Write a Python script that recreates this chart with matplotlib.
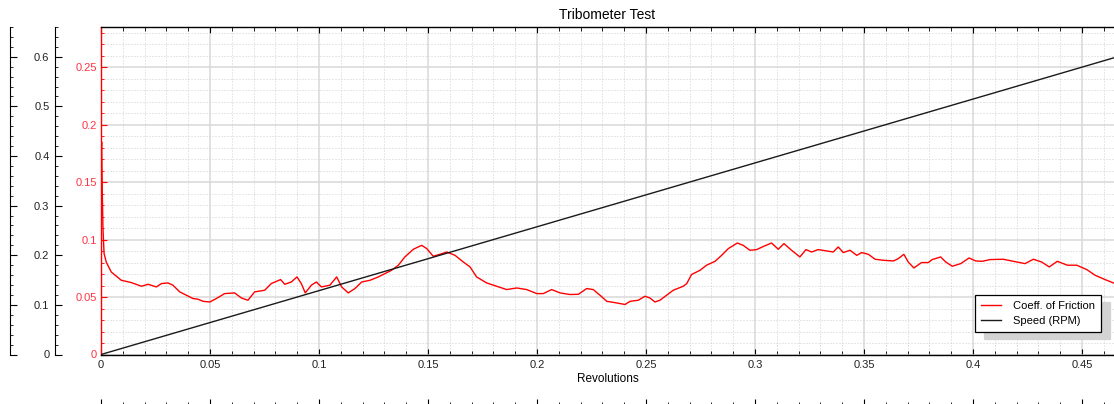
import matplotlib
matplotlib.use("Agg")
import matplotlib.pyplot as plt
from matplotlib.ticker import MultipleLocator, FuncFormatter

plt.rcParams['font.family'] = ['Liberation Sans', 'DejaVu Sans']

# friction coefficient vs revolutions
rev_cof = [0.0, 0.0003, 0.0006, 0.0009, 0.0014, 0.0024, 0.0047, 0.0093, 0.0139, 0.0185,
           0.0216, 0.0254, 0.0277, 0.0307, 0.033, 0.0361, 0.0391, 0.0422, 0.0445, 0.0468,
           0.0499, 0.0529, 0.0567, 0.0613, 0.0644, 0.0674, 0.0705, 0.0751, 0.0781, 0.0824,
           0.0843, 0.0873, 0.0899, 0.0919, 0.0937, 0.0965, 0.0988, 0.1011, 0.105, 0.1081,
           0.1104, 0.1134, 0.1165, 0.1196, 0.1234, 0.1272, 0.1303, 0.1333, 0.1364, 0.1394,
           0.1433, 0.1471, 0.1494, 0.1524, 0.1555, 0.1586, 0.1624, 0.1662, 0.1693, 0.1723,
           0.1769, 0.1815, 0.1861, 0.1907, 0.1953, 0.1999, 0.2029, 0.2067, 0.2106, 0.2151,
           0.219, 0.2228, 0.2258, 0.2289, 0.232, 0.2365, 0.2404, 0.2427, 0.2465, 0.2495,
           0.2518, 0.2541, 0.2564, 0.2595, 0.2625, 0.2671, 0.2687, 0.2709, 0.2748, 0.2778,
           0.2817, 0.2847, 0.2878, 0.2919, 0.2946, 0.2977, 0.3008, 0.3038, 0.3076, 0.3107,
           0.3133, 0.3168, 0.3206, 0.3234, 0.326, 0.329, 0.3329, 0.3359, 0.3382, 0.3405,
           0.3436, 0.3467, 0.349, 0.352, 0.3551, 0.3589, 0.3635, 0.3658, 0.3683, 0.3703,
           0.3729, 0.3764, 0.3795, 0.3813, 0.3852, 0.3875, 0.3905, 0.3944, 0.3982, 0.4013,
           0.4043, 0.4078, 0.4139, 0.4185, 0.4239, 0.4277, 0.4315, 0.435, 0.4387, 0.4433,
           0.4476, 0.4522, 0.456, 0.4606, 0.4644]
cof = [0.17, 0.185, 0.14, 0.11, 0.088, 0.0805, 0.0718, 0.0646, 0.0626, 0.0594,
       0.0611, 0.0588, 0.0617, 0.0623, 0.0603, 0.0545, 0.0516, 0.0487, 0.0481, 0.0463,
       0.0457, 0.0487, 0.053, 0.0536, 0.0492, 0.0472, 0.0545, 0.0559, 0.0617, 0.0652,
       0.0611, 0.0631, 0.0675, 0.0617, 0.0536, 0.0603, 0.0631, 0.0588, 0.0603, 0.0675,
       0.0588, 0.0536, 0.0574, 0.0631, 0.0646, 0.0675, 0.0704, 0.0733, 0.0777, 0.0849,
       0.0916, 0.095, 0.0922, 0.0855, 0.0872, 0.0892, 0.0863, 0.0805, 0.0762, 0.0675,
       0.0623, 0.0594, 0.0565, 0.0579, 0.0565, 0.053, 0.053, 0.0565, 0.0536, 0.0522,
       0.0524, 0.0574, 0.0565, 0.0516, 0.0463, 0.0449, 0.0435, 0.0463, 0.0472, 0.0507,
       0.0492, 0.0457, 0.0472, 0.0516, 0.0559, 0.0594, 0.0617, 0.0696, 0.0733, 0.0777,
       0.0811, 0.0863, 0.0922, 0.097, 0.095, 0.0907, 0.0913, 0.094, 0.097, 0.0916,
       0.0965, 0.0907, 0.0849, 0.0913, 0.0892, 0.0913, 0.0901, 0.0892, 0.0936, 0.0887,
       0.0907, 0.0863, 0.0887, 0.0872, 0.0829, 0.082, 0.0814, 0.0835, 0.0872, 0.0805,
       0.0753, 0.08, 0.08, 0.0826, 0.0849, 0.0805, 0.0768, 0.0791, 0.084, 0.0814,
       0.0811, 0.0826, 0.0829, 0.0811, 0.0791, 0.0829, 0.0805, 0.0762, 0.0811, 0.0777,
       0.0777, 0.0739, 0.069, 0.0652, 0.0623]

# speed ramp
rev_speed = [0.0, 0.4647]
speed = [0.0, 0.598]

RED = '#ff0000'
RED_TXT = '#ff3344'
DARK = '#222222'
fmt = FuncFormatter(lambda v, _: f'{v:g}')

fig = plt.figure(figsize=(11.14, 4.04), dpi=100)
rect = [101 / 1114, (404 - 354.5) / 404, (1114 - 101) / 1114, (354.5 - 27) / 404]

ax = fig.add_axes(rect)
ax.plot(rev_cof, cof, color=RED, lw=1.0, label='Coeff. of Friction')
ax.set_xlim(0, 0.4647)
ax.set_ylim(0, 0.285)
ax.xaxis.set_major_locator(MultipleLocator(0.05))
ax.xaxis.set_minor_locator(MultipleLocator(0.01))
ax.yaxis.set_major_locator(MultipleLocator(0.05))
ax.yaxis.set_minor_locator(MultipleLocator(0.01))
ax.xaxis.set_major_formatter(fmt)
ax.yaxis.set_major_formatter(fmt)
ax.set_axisbelow(True)
ax.grid(which='major', color='#d8d8d8', lw=1.1, ls='-')
ax.grid(which='minor', color='#d0d0d0', lw=0.72, ls=(0, (1, 2)))
ax.spines['right'].set_visible(False)
ax.spines['left'].set_color(RED)
ax.spines['left'].set_linewidth(1.0)
ax.spines['top'].set_linewidth(1.0)
ax.spines['bottom'].set_linewidth(1.0)
ax.tick_params(axis='x', which='both', direction='in', top=True, labelsize=8,
               labelcolor=DARK, pad=4)
ax.tick_params(axis='x', which='major', length=4.5)
ax.tick_params(axis='x', which='minor', length=2.8)
ax.tick_params(axis='y', which='both', direction='in', color=RED, labelcolor=RED_TXT,
               labelsize=8, pad=3)
ax.tick_params(axis='y', which='major', length=4.5)
ax.tick_params(axis='y', which='minor', length=2.5)
ax.set_xlabel('Revolutions', fontsize=8.5, labelpad=2)
ax.set_title('Tribometer Test', fontsize=10, pad=6)

# speed axis, offset to the left
ax_spd = fig.add_axes(rect, sharex=ax)
ax_spd.patch.set_visible(False)
ax_spd.plot(rev_speed, speed, color='#1a1a1a', lw=1.0, label='Speed (RPM)')
ax_spd.set_ylim(0, 0.66)
for s in ['top', 'right', 'bottom']:
    ax_spd.spines[s].set_visible(False)
ax_spd.spines['left'].set_position(('axes', -46 / 1013))
ax_spd.xaxis.set_visible(False)
ax_spd.yaxis.set_major_locator(MultipleLocator(0.1))
ax_spd.yaxis.set_minor_locator(MultipleLocator(0.02))
ax_spd.yaxis.set_major_formatter(fmt)
ax_spd.tick_params(axis='y', which='both', direction='in', labelsize=8,
                   labelcolor=DARK, pad=4)
ax_spd.tick_params(axis='y', which='major', length=5)
ax_spd.tick_params(axis='y', which='minor', length=2.5)

# outer axis (no labels) plus the lower tick row
ax_far = fig.add_axes(rect, sharex=ax)
ax_far.patch.set_visible(False)
ax_far.set_ylim(0, 0.66)
ax_far.spines['top'].set_visible(False)
ax_far.spines['right'].set_visible(False)
ax_far.spines['left'].set_position(('axes', -91.5 / 1013))
ax_far.spines['bottom'].set_position(('axes', -(405 - 354.5) / 327.5))
ax_far.spines['bottom'].set_color('none')
ax_far.yaxis.set_major_locator(MultipleLocator(0.1))
ax_far.yaxis.set_minor_locator(MultipleLocator(0.02))
ax_far.tick_params(axis='y', which='both', direction='in', labelleft=False)
ax_far.tick_params(axis='y', which='major', length=5)
ax_far.tick_params(axis='y', which='minor', length=2.5)
ax_far.tick_params(axis='x', which='both', direction='in', labelbottom=False, color='black')
ax_far.tick_params(axis='x', which='major', length=4.3)
ax_far.tick_params(axis='x', which='minor', length=2.2)

h1, l1 = ax.get_legend_handles_labels()
h2, l2 = ax_spd.get_legend_handles_labels()
leg = fig.legend(h1 + h2, l1 + l2, loc='upper left',
                 bbox_to_anchor=(975 / 1114, 1 - 295 / 404), borderaxespad=0,
                 fontsize=8, frameon=True, fancybox=False, framealpha=1,
                 edgecolor='black', handlelength=1.8, handletextpad=1.1,
                 labelspacing=0.45, borderpad=0.55,
                 shadow={'color': '#d3d3d3', 'alpha': 1, 'ox': 6.5, 'oy': -5})
leg.get_frame().set_linewidth(0.9)
for line in leg.get_lines():
    line.set_linewidth(1.0)

fig.savefig('out.png', dpi=100)
